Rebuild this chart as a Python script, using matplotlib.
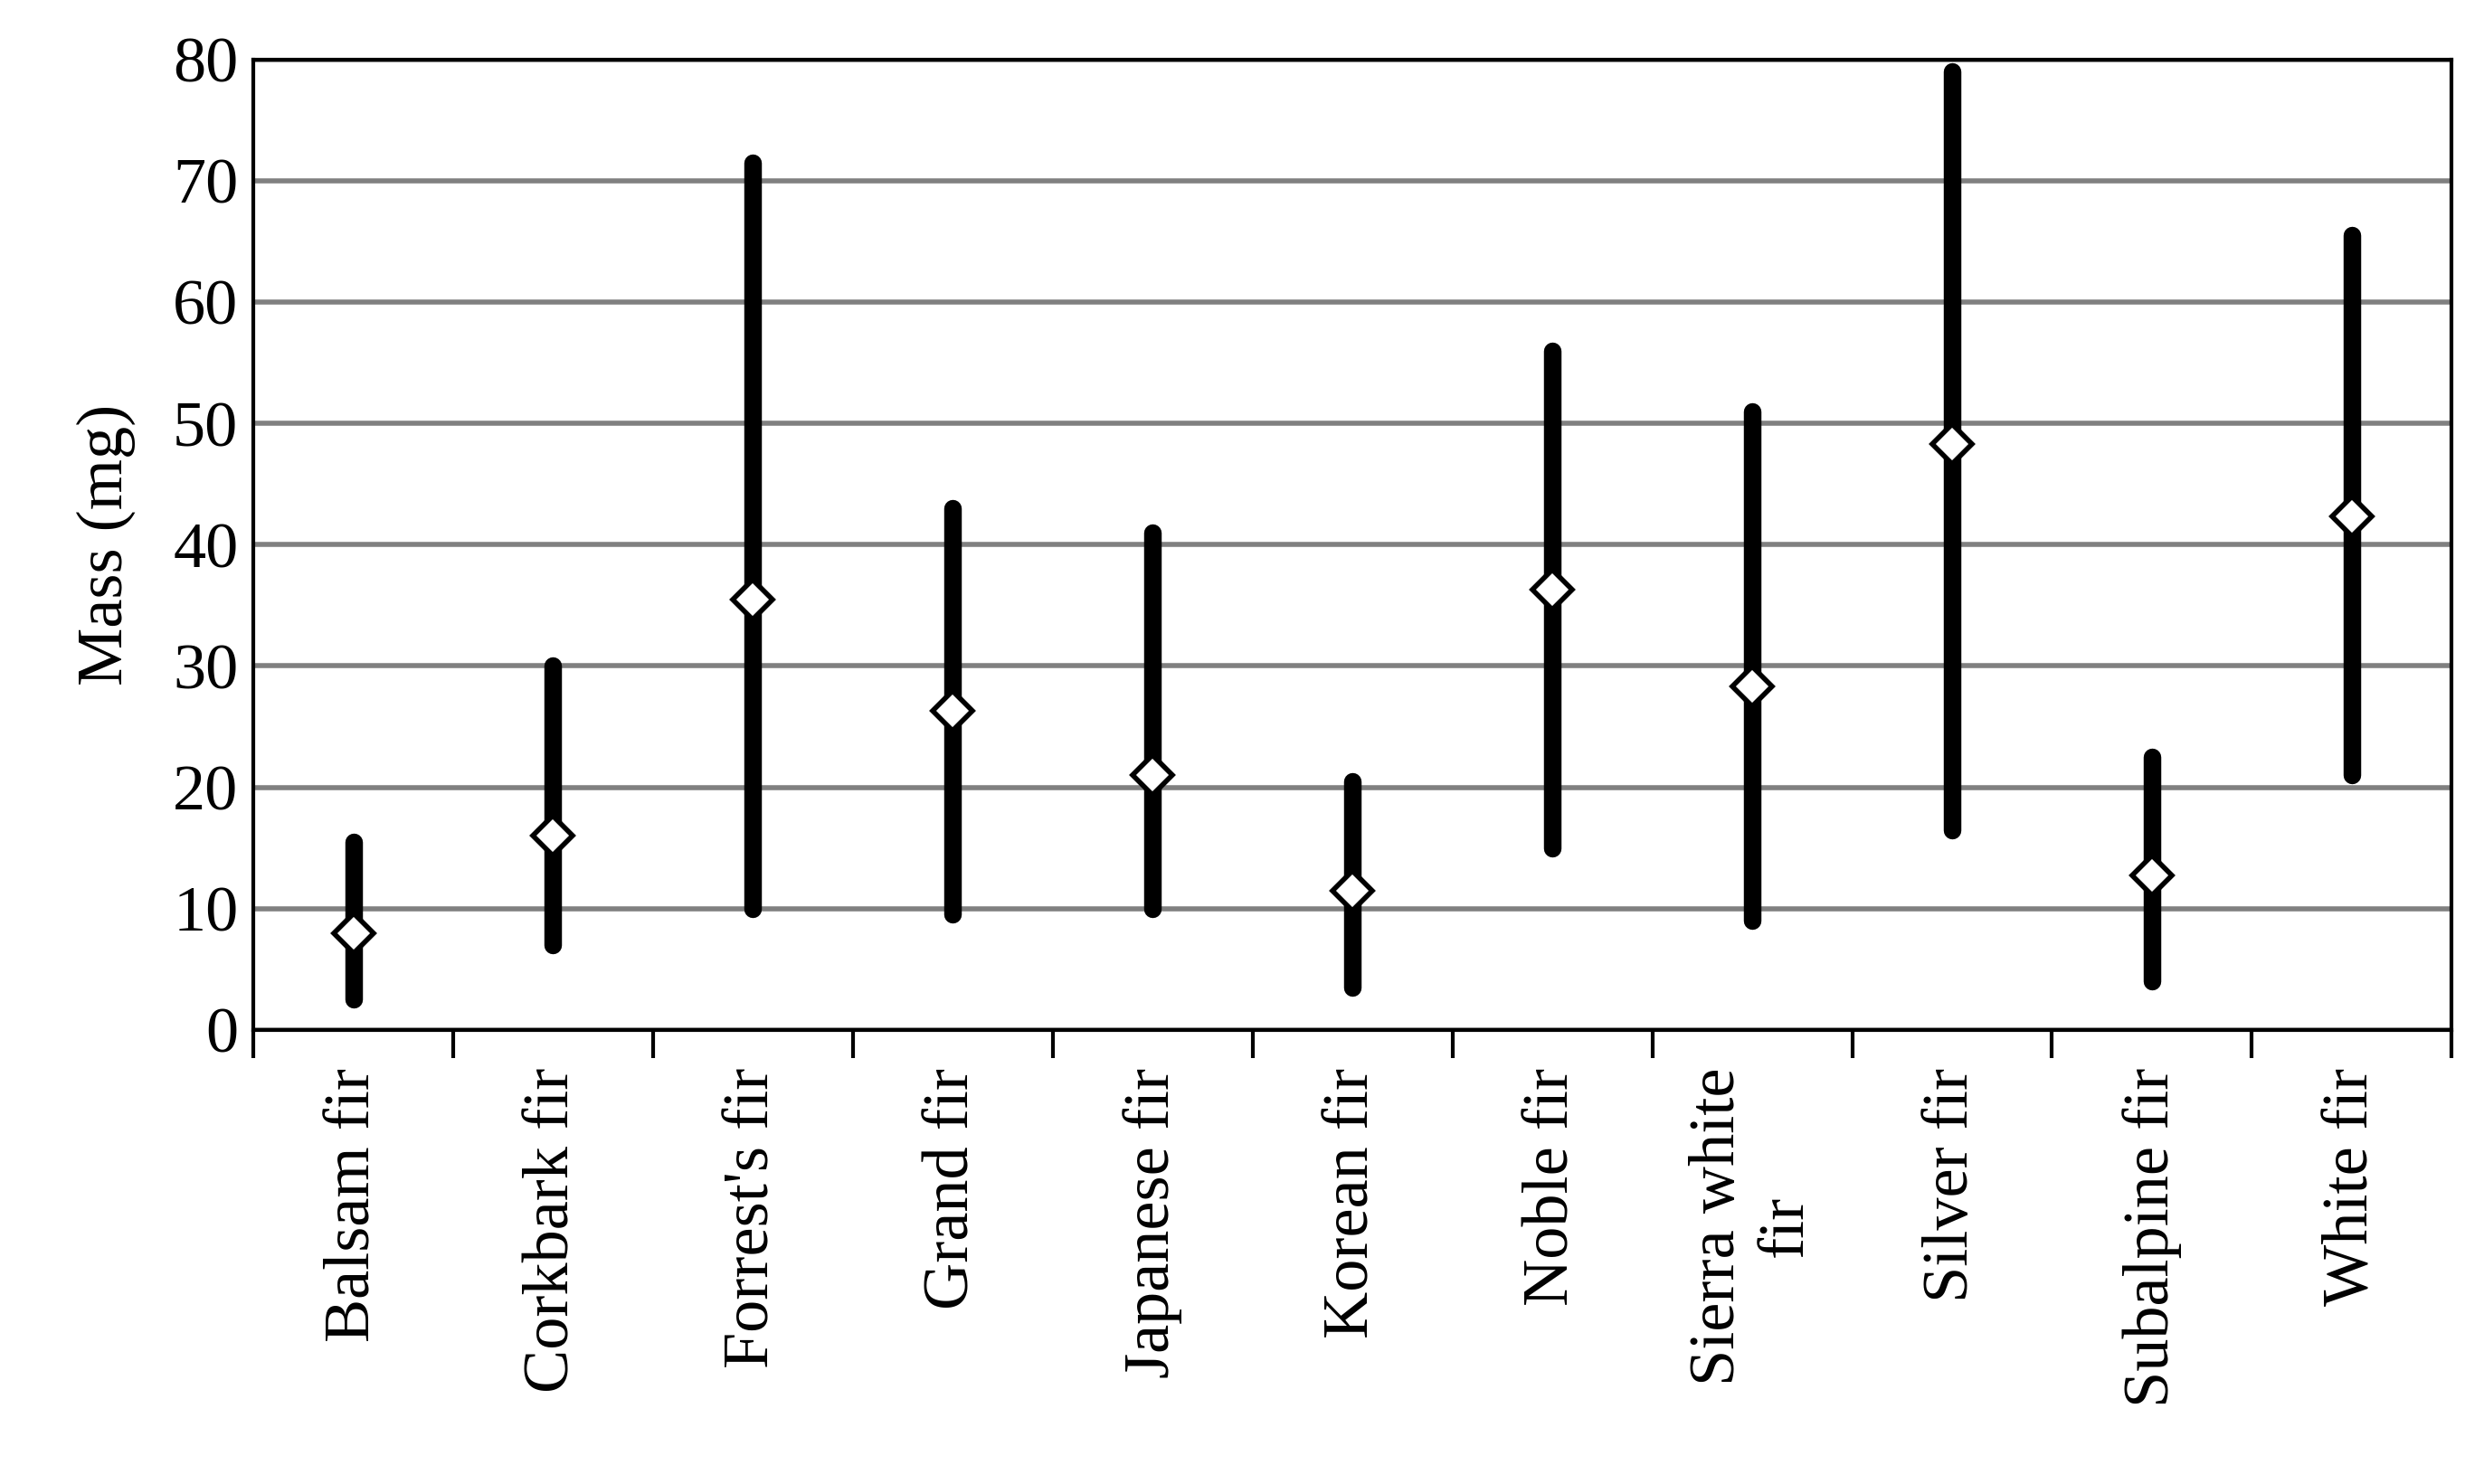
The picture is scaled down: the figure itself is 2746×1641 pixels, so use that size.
import matplotlib.pyplot as plt
import numpy as np

species = ["Balsam fir", "Corkbark fir", "Forrest's fir", "Grand fir", "Japanese fir",
           "Korean fir", "Noble fir", "Sierra white\nfir", "Silver fir", "Subalpine fir", "White fir"]
mass_min = [2.5, 7.0, 10.0, 9.5, 10.0, 3.5, 15.0, 9.0, 16.5, 4.0, 21.0]
mass_mean = [8.0, 16.0, 35.5, 26.3, 21.0, 11.5, 36.3, 28.3, 48.3, 12.7, 42.3]
mass_max = [15.5, 30.0, 71.5, 43.0, 41.0, 20.5, 56.0, 51.0, 79.0, 22.5, 65.5]

plt.rcParams['font.family'] = ['Liberation Serif', 'DejaVu Serif']

fig = plt.figure(figsize=(27.46, 16.41), dpi=100)
ax = fig.add_axes([0.102, 0.306, 0.885, 0.654])

x = np.arange(len(species))
ax.vlines(x, mass_min, mass_max, color='black', linewidth=14, capstyle='round', zorder=3)
ax.plot(x, mass_mean, linestyle='none', marker='D', markersize=22, markerfacecolor='white',
        markeredgecolor='black', markeredgewidth=4, zorder=4)

ax.set_xlim(-0.5, len(species) - 0.5)
ax.set_ylim(0, 80)
ax.set_yticks(range(0, 81, 10))
ax.yaxis.grid(True, color='#808080', linewidth=4)
ax.set_axisbelow(True)
ax.tick_params(axis='y', labelsize=52, length=0, pad=12)
ax.set_ylabel("Mass (mg)", fontsize=52, labelpad=30)

ax.set_xticks(np.arange(-0.5, len(species), 1.0))
ax.set_xticklabels([])
ax.tick_params(axis='x', which='major', length=22, width=3, direction='out')
ax.set_xticks(x, minor=True)
ax.set_xticklabels(species, minor=True, rotation=90, fontsize=52, va='top', ha='center',
                   multialignment='center')
ax.tick_params(axis='x', which='minor', length=0, pad=30)

for s in ax.spines.values():
    s.set_linewidth(3)

fig.savefig("out.png", dpi=100)
